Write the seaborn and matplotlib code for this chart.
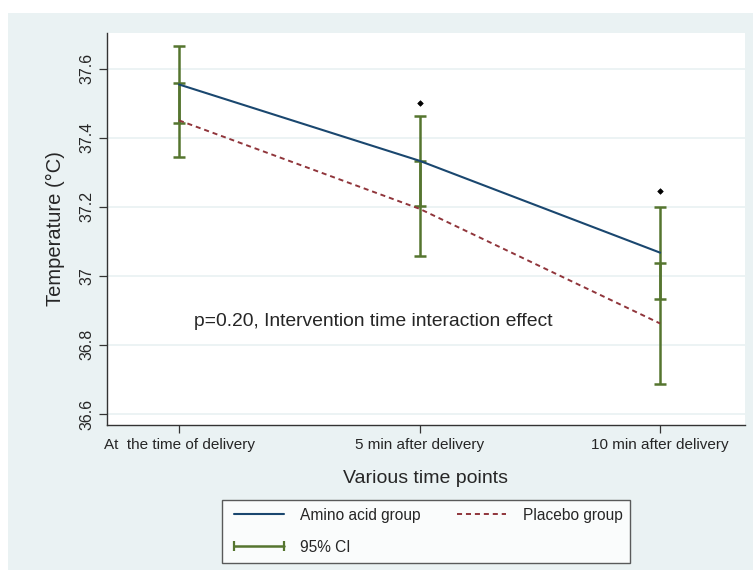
import matplotlib
matplotlib.use("Agg")
import matplotlib.pyplot as plt
from matplotlib.patches import Rectangle
from matplotlib.lines import Line2D
import seaborn as sns
import pandas as pd
import numpy as np

# ---- data ----
time_points = ["At  the time of delivery", "5 min after delivery", "10 min after delivery"]
amino_mean = [37.554, 37.333, 37.067]
amino_lo = [37.442, 37.202, 36.933]
amino_hi = [37.666, 37.463, 37.200]
placebo_mean = [37.450, 37.194, 36.862]
placebo_lo = [37.344, 37.057, 36.687]
placebo_hi = [37.557, 37.331, 37.037]
sig_x = [1, 2]
sig_y = [37.500, 37.246]
y_ticks = [36.6, 36.8, 37.0, 37.2, 37.4, 37.6]
y_tick_labels = ["36.6", "36.8", "37", "37.2", "37.4", "37.6"]

NAVY = "#1a476f"
MAROON = "#90353b"
GREEN = "#55752f"
BG = "#eaf2f3"

sns.set_theme(style="white")
plt.rcParams["font.family"] = ["Liberation Sans", "DejaVu Sans"]

fig = plt.figure(figsize=(7.53, 5.70), dpi=100)
W, H = 753, 570
fig.patches.append(Rectangle((8 / W, 0), 1 - 8 / W, 1 - 13 / H,
                             transform=fig.transFigure, facecolor=BG,
                             edgecolor="none", zorder=-10))

ax = fig.add_axes([106.7 / W, 1 - 425 / H, (745 - 106.7) / W, (425 - 33) / H])
ax.set_facecolor("white")

idx = np.arange(len(time_points))
df = pd.DataFrame({
    "x": np.concatenate([idx, idx]),
    "temp": amino_mean + placebo_mean,
    "group": ["Amino acid group"] * 3 + ["Placebo group"] * 3,
})

# gridlines
for yt in y_ticks:
    ax.axhline(yt, color=BG, lw=1.3, zorder=0)

# CI error bars
for m, lo, hi in [(amino_mean, amino_lo, amino_hi), (placebo_mean, placebo_lo, placebo_hi)]:
    m = np.array(m)
    ax.errorbar(idx, m, yerr=[m - np.array(lo), np.array(hi) - m], fmt="none",
                ecolor=GREEN, elinewidth=1.8, capsize=4, capthick=1.8, zorder=2)

sns.lineplot(data=df[df.group == "Amino acid group"], x="x", y="temp", ax=ax,
             color=NAVY, lw=1.5, legend=False, zorder=3)
sns.lineplot(data=df[df.group == "Placebo group"], x="x", y="temp", ax=ax,
             color=MAROON, lw=1.4, legend=False, zorder=3)
ax.lines[-1].set_dashes([2.6, 2.0])

sns.scatterplot(x=sig_x, y=sig_y, ax=ax, marker="D", s=8, color="black",
                edgecolor="black", linewidth=0.5, zorder=4)

ax.set_xlim(-0.3006, 2.353)
ax.set_ylim(36.568, 37.703)
ax.set_xticks(idx)
ax.set_xticklabels(time_points, fontsize=11)
ax.set_yticks(y_ticks)
ax.set_yticklabels(y_tick_labels, rotation=90, va="center", fontsize=11.5)
ax.tick_params(axis="both", direction="out", length=6, width=0.9, color="#333333",
               bottom=True, left=True, pad=3)
for s in ["top", "right"]:
    ax.spines[s].set_visible(False)
for s in ["left", "bottom"]:
    ax.spines[s].set_color("#333333")
    ax.spines[s].set_linewidth(1.0)

ax.set_xlabel("Various time points", fontsize=14, labelpad=13)
ax.set_ylabel("Temperature (°C)", fontsize=14.5, labelpad=10)

ax.text(0.062, 36.867, "p=0.20, Intervention time interaction effect",
        fontsize=13.9, va="center", ha="left")

h_amino = Line2D([], [], color=NAVY, lw=1.5)
h_placebo = Line2D([], [], color=MAROON, lw=1.4, dashes=[2.6, 2.0])
h_ci = Line2D([], [], color=GREEN, lw=1.8, marker="|", markersize=7, markeredgewidth=1.6)
leg = fig.legend([h_amino, h_ci, h_placebo], ["Amino acid group", "95% CI", "Placebo group"],
                 loc="upper center", bbox_to_anchor=(426 / W, 1 - 500 / H),
                 ncol=2, numpoints=2, fontsize=11.2, frameon=True, fancybox=False,
                 edgecolor="#333333", facecolor="white", handlelength=3.8,
                 borderaxespad=0, borderpad=0.5, columnspacing=2.0, labelspacing=1.1,
                 handletextpad=0.75)
leg.get_frame().set_linewidth(1.0)

fig.savefig("out.png", dpi=100)
